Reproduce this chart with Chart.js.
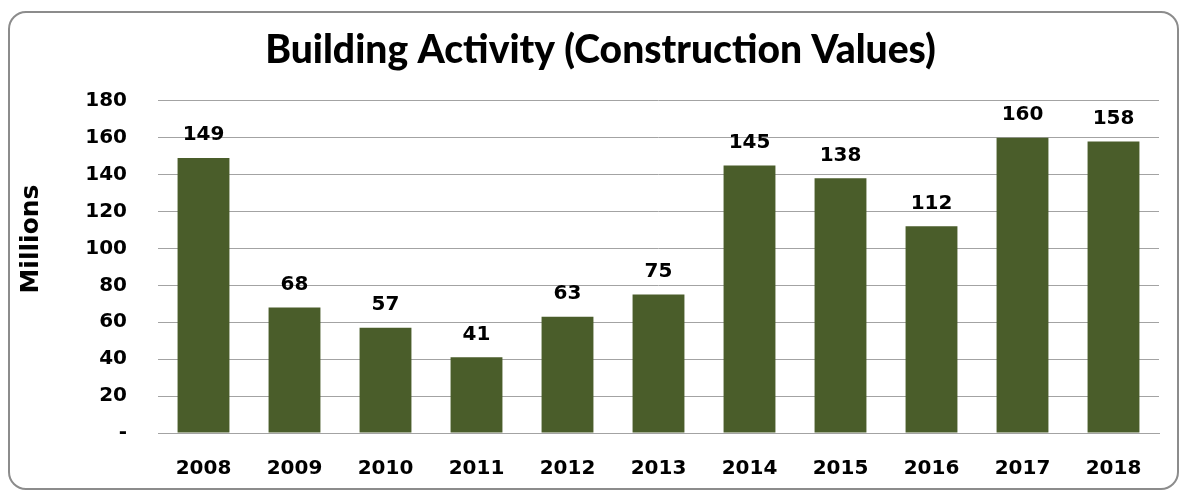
<!DOCTYPE html>
<html>
<head>
<meta charset="utf-8">
<script src="https://cdn.jsdelivr.net/npm/chart.js@4"></script>
<style>
  html, body { margin: 0; padding: 0; background: #fff; }
  #frame {
    position: absolute; left: 8px; top: 11px;
    width: 1167px; height: 475px;
    border: 2px solid #8c8c8c; border-radius: 18px;
  }
  #wrap { position: absolute; left: 0; top: 0; width: 1187px; height: 493px; }
</style>
</head>
<body>
<div id="frame"></div>
<div id="wrap"><canvas id="chart" width="1187" height="493"></canvas></div>
<script>
const YEARS  = ['2008','2009','2010','2011','2012','2013','2014','2015','2016','2017','2018'];
const VALUES = [149, 68, 57, 41, 63, 75, 145, 138, 112, 160, 158];
const Y_MAX  = 180;
const Y_STEP = 20;

const BAR_COLOR = '#4A5D2A';
const GRID_COLOR = '#a3a3a3';
const LABEL_FONT = { family: 'DejaVu Sans', weight: 'bold', size: 20 };

// value labels above bars + rotated axis title
const labelsPlugin = {
  id: 'labels',
  afterDatasetsDraw(chart) {
    const ctx = chart.ctx;
    const meta = chart.getDatasetMeta(0);
    ctx.save();
    ctx.font = 'bold 20px "DejaVu Sans"';
    ctx.fillStyle = '#000';
    ctx.textAlign = 'center';
    ctx.textBaseline = 'middle';
    meta.data.forEach((bar, i) => {
      ctx.fillText(String(VALUES[i]), bar.x, bar.y - 23);
    });
    // "Millions"
    ctx.translate(31, 239);
    ctx.rotate(-Math.PI / 2);
    ctx.font = 'bold 25px "DejaVu Sans"';
    ctx.fillText('Millions', 0, 0);
    ctx.restore();
  },
};

const chart = new Chart(document.getElementById('chart'), {
  type: 'bar',
  data: {
    labels: YEARS,
    datasets: [{
      data: VALUES,
      backgroundColor: BAR_COLOR,
      categoryPercentage: 1,
      barPercentage: 0.57,
    }],
  },
  options: {
    responsive: false,
    animation: false,
    layout: { padding: { left: 42, right: 28, top: 0, bottom: 0 } },
    plugins: {
      legend: { display: false },
      tooltip: { enabled: false },
      title: {
        display: true,
        text: 'Building Activity (Construction Values)',
        color: '#000',
        font: { family: 'Lato', weight: '900', size: 39 },
        padding: { top: 27, bottom: 27 },
      },
    },
    scales: {
      x: {
        grid: { display: false },
        border: { color: GRID_COLOR },
        ticks: { color: '#000', font: LABEL_FONT, padding: 16 },
        afterFit: s => { s.height = 60; },
      },
      y: {
        min: 0, max: Y_MAX,
        grid: { color: GRID_COLOR, drawTicks: false },
        border: { display: false },
        ticks: {
          stepSize: Y_STEP,
          color: '#000',
          font: LABEL_FONT,
          padding: 31,
          callback: v => v === 0 ? '-' : v,
        },
        afterFit: s => { s.width = 116; },
      },
    },
  },
  plugins: [labelsPlugin],
});
</script>
</body>
</html>
